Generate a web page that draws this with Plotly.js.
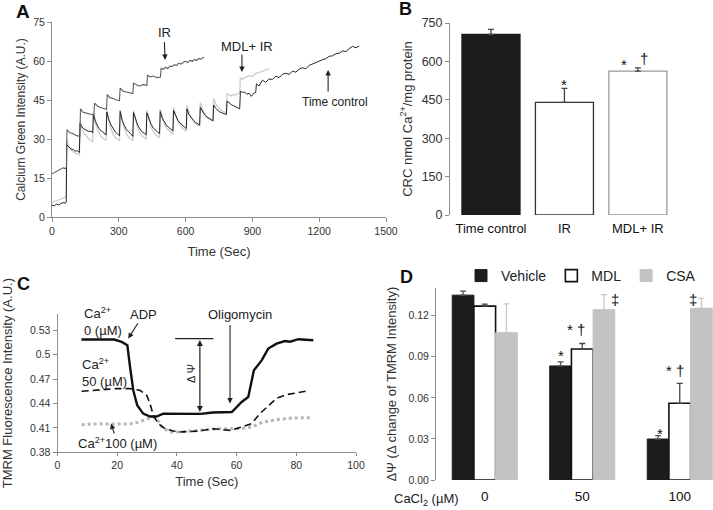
<!DOCTYPE html>
<html>
<head>
<meta charset="utf-8">
<script src="https://cdn.plot.ly/plotly-3.0.1.min.js"></script>
<style>html,body{margin:0;padding:0;background:#fff}#chart{width:713px;height:510px}</style>
</head>
<body>
<div id="chart"></div>
<script>
// ---------- Panel A : Calcium Green traces ----------
const timeCtrlA = [0,10,20,30,40,50,60,64,
 66,75,85,95,105,115,123,
 126,135,145,155,165,175,183,
 186,195,205,215,225,235,243,
 246,255,265,275,285,295,303,
 306,315,325,335,345,355,363,
 366,375,385,395,405,415,423,
 426,435,445,455,465,475,483,
 486,495,505,515,525,535,543,
 546,555,565,575,585,595,603,
 606,615,625,635,645,655,663,
 666,675,685,695,705,715,723,
 726,735,745,755,765,775,783,
 786,795,805,815,825,835,843,
 846,855,865,875,885,895,905,915,
 918,930,945,960,975,990,1005,1020,1035,1050,1065,1080,1095,1110,1125,1140,1155,1170,1185,1200,1215,1230,1245,1260,1275,1290,1305,1320,1335,1350,1365,1380];
const ctrlA = [4.5,4.3,5.0,4.6,5.2,5.5,5.3,5.8,
 27.8,26.9,26.2,25.9,25.3,25.5,24.8,
 36.0,34.6,33.8,33.5,32.9,33.0,32.4,
 39.6,36.8,35.0,33.6,32.9,32.1,31.6,
 40.4,37.5,35.4,33.8,32.6,31.9,31.2,
 40.6,37.2,35.2,33.5,32.8,31.6,31.0,
 40.2,37.4,35.3,33.9,32.7,32.2,31.6,
 40.1,37.6,35.7,34.2,33.3,32.6,32.1,
 40.6,38.0,36.3,35.1,34.4,33.5,33.1,
 41.0,38.8,37.2,36.1,35.2,34.6,34.0,
 41.6,39.4,38.1,37.2,36.3,35.9,35.4,
 42.2,40.5,39.3,38.5,37.9,37.4,37.0,
 43.1,41.8,41.0,40.3,40.0,39.7,39.4,
 44.6,43.9,43.2,42.8,42.3,42.0,41.6,
 48.4,47.9,48.1,47.2,47.6,46.4,47.5,48.0,
 51.2,50.4,52.6,51.8,53.1,52.9,54.2,53.6,54.9,55.3,54.8,56.1,55.7,56.9,57.4,57.0,58.3,58.9,59.4,59.8,60.5,60.9,61.8,62.0,62.8,63.0,63.9,63.6,64.8,65.6,65.1,65.8];

const timeMdlA = [0,10,20,30,40,50,60,64,
 66,75,85,95,105,115,123,
 126,135,145,155,165,175,183,
 186,195,205,215,225,235,243,
 246,255,265,275,285,295,303,
 306,315,325,335,345,355,363,
 366,375,385,395,405,415,423,
 426,435,445,455,465,475,483,
 486,495,505,515,525,535,543,
 546,555,565,575,585,595,603,
 606,615,625,635,645,655,663,
 666,675,685,695,705,715,723,
 726,735,745,755,765,775,783,
 786,795,805,815,825,835,843,
 846,855,870,885,900,915,930,945,960,975];
const mdlA = [5.6,5.9,6.4,6.8,7.0,7.4,7.6,8.0,
 29.6,27.2,25.8,25.0,24.6,24.3,24.0,
 36.6,33.9,32.0,30.8,30.0,29.4,29.0,
 40.1,36.2,33.4,31.6,30.6,29.9,29.4,
 41.0,36.9,33.8,31.7,30.5,29.8,29.3,
 41.2,37.0,33.9,31.9,30.6,29.9,29.4,
 41.0,37.1,34.2,32.3,31.1,30.4,30.0,
 41.1,37.4,34.6,32.8,31.6,31.0,30.5,
 41.5,38.2,35.7,34.0,33.0,32.4,32.0,
 42.1,39.0,36.7,35.2,34.2,33.5,33.0,
 43.0,40.2,38.2,36.8,35.9,35.3,35.0,
 44.1,41.6,39.8,38.6,37.8,37.3,37.0,
 45.6,43.6,42.2,41.3,40.7,40.3,40.0,
 47.4,47.0,46.6,47.2,46.8,47.5,47.6,
 53.4,53.0,53.8,54.3,54.0,55.2,55.6,56.1,56.5,57.0];

const timeIrA = [0,10,20,30,40,50,60,65,
 67,80,95,110,125,
 128,140,155,170,188,
 191,205,220,235,245,
 248,260,275,290,303,
 306,320,335,350,363,
 366,380,395,410,426,
 429,440,455,470,487,
 490,500,510,520,530,540,550,560,570,580,590,600,610,620,630,640,650,660,670,683];
const irA = [16.6,17.0,17.4,17.9,18.3,18.9,18.6,19.2,
 33.6,32.4,32.0,31.3,31.0,
 41.6,40.3,40.0,39.6,39.2,
 43.8,42.6,42.0,41.7,41.4,
 47.1,45.9,45.6,45.0,44.8,
 49.6,48.4,48.0,47.8,47.5,
 51.6,50.8,50.4,51.0,50.6,
 54.6,53.9,54.2,53.6,53.8,
 57.2,56.8,57.6,57.1,58.0,57.9,58.6,58.3,59.2,58.8,59.5,59.9,59.4,60.3,59.8,60.6,60.2,61.0,60.7,61.6];

// ---------- Panel B : CRC bars ----------
const groupsB = ['Time control','IR','MDL+ IR'];
const crcB = [705, 440, 562];
const crcErrB = [20, 55, 13];

// ---------- Panel C : TMRM traces ----------
const timeCa0 = [8,12,16,19,21.5,23.4,24.3,25.4,26.7,28.7,31,33.2,35.4,38.8,44,48,52,56,58.4,61.7,63.9,65.8,68.4,70.6,73.4,76.2,77.9,80.7,83,85.7];
const tmrmCa0 = [0.5186,0.5185,0.5186,0.5186,0.5157,0.5115,0.485,0.456,0.4378,0.4276,0.424,0.424,0.4276,0.4276,0.4272,0.4272,0.429,0.429,0.4295,0.4418,0.448,0.4808,0.493,0.5075,0.5136,0.5168,0.516,0.519,0.5185,0.5177];
const timeCa50 = [8.1,14.2,19.8,24.3,27.6,29.9,31,32.1,33.8,36,38.8,41,46.6,52.2,57.8,61.7,65,67.8,70.3,73.4,76.8,80.7,84];
const tmrmCa50 = [0.455,0.457,0.4583,0.4583,0.4562,0.450,0.4398,0.4255,0.4152,0.409,0.4062,0.405,0.406,0.409,0.407,0.4111,0.4152,0.4275,0.4355,0.4465,0.451,0.4535,0.4555];
const timeCa100 = [8.1,14.2,19.8,25.4,28.7,32.1,33.8,35.4,38.2,41,47.7,54.4,61.1,65,68.9,73.4,77.9,84.6];
const tmrmCa100 = [0.414,0.415,0.4148,0.415,0.4193,0.4234,0.418,0.409,0.405,0.405,0.407,0.409,0.409,0.4111,0.4172,0.4201,0.422,0.4225];

// ---------- Panel D : delta Psi bars ----------
const cacl2D = ['0','50','100'];
const vehicleD = [0.135, 0.0833, 0.0299];
const vehicleErrD = [0.003, 0.003, 0.0025];
const mdlD = [0.127, 0.0957, 0.056];
const mdlErrD = [0.0015, 0.004, 0.0146];
const csaD = [0.1076, 0.1244, 0.1254];
const csaErrD = [0.021, 0.011, 0.0073];

// ---------- layout helpers (pixel -> paper) ----------
const W = 713, H = 510;
const px = v => v / W;
const py = v => 1 - v / H;
const FONT = 'Liberation Sans, Arial, sans-serif';
const zeros = n => new Array(n).fill(0);

const traces = [
  {x: timeMdlA, y: mdlA, xaxis:'x', yaxis:'y', type:'scatter', mode:'lines', line:{color:'#cfcfcf', width:1.4}, showlegend:false},
  {x: timeCtrlA, y: ctrlA, xaxis:'x', yaxis:'y', type:'scatter', mode:'lines', line:{color:'#262626', width:1}, showlegend:false},
  {x: timeIrA, y: irA, xaxis:'x', yaxis:'y', type:'scatter', mode:'lines', line:{color:'#5e5e5e', width:1.1}, showlegend:false},

  {x: groupsB, y: crcB, xaxis:'x2', yaxis:'y2', type:'bar', width:0.79, showlegend:false,
   marker:{color:['#1c1c1c','#ffffff','#ffffff'], line:{color:['#1c1c1c','#333333','#9a9a9a'], width:1.3},
           pattern:{shape:['','','/'], fgcolor:'#222222', size:6, solidity:0.35}},
   error_y:{type:'data', symmetric:false, array:crcErrB, arrayminus:zeros(3), color:'#444', thickness:1.3, width:3}},

  {x: timeCa100, y: tmrmCa100, xaxis:'x3', yaxis:'y3', type:'scatter', mode:'lines', line:{color:'#b5b5b5', width:3, dash:'dot'}, showlegend:false},
  {x: timeCa50, y: tmrmCa50, xaxis:'x3', yaxis:'y3', type:'scatter', mode:'lines', line:{color:'#111', width:1.6, dash:'7px,4px'}, showlegend:false},
  {x: timeCa0, y: tmrmCa0, xaxis:'x3', yaxis:'y3', type:'scatter', mode:'lines', line:{color:'#111', width:2.4}, showlegend:false},

  {x: cacl2D, y: vehicleD, name:'Vehicle', xaxis:'x4', yaxis:'y4', type:'bar', marker:{color:'#1c1c1c', line:{color:'#1c1c1c', width:1}},
   error_y:{type:'data', symmetric:false, array:vehicleErrD, arrayminus:zeros(3), color:'#555', thickness:1.3, width:3}},
  {x: cacl2D, y: mdlD, name:'MDL', xaxis:'x4', yaxis:'y4', type:'bar', marker:{color:'#ffffff', line:{color:'#111', width:1.6}},
   error_y:{type:'data', symmetric:false, array:mdlErrD, arrayminus:zeros(3), color:'#444', thickness:1.3, width:3}},
  {x: cacl2D, y: csaD, name:'CSA', xaxis:'x4', yaxis:'y4', type:'bar', marker:{color:'#c3c3c3', line:{color:'#c3c3c3', width:1}},
   error_y:{type:'data', symmetric:false, array:csaErrD, arrayminus:zeros(3), color:'#c8c8c8', thickness:1.3, width:3}}
];

const axLine = '#8c8c8c';
const tickF = s => ({family:FONT, size:s, color:'#333'});
const titleF = s => ({family:FONT, size:s, color:'#333', weight:400});
const txt = (s, c) => ({family:FONT, size:s, color:c || '#222', weight:400});

const layout = {
  width:W, height:H, margin:{l:0,r:0,t:0,b:0}, paper_bgcolor:'#fff', plot_bgcolor:'rgba(0,0,0,0)',
  font:{family:FONT, color:'#222'},
  barmode:'group', bargap:0.333, bargroupgap:0,
  showlegend:true,
  legend:{orientation:'h', x:px(461), y:py(276), xanchor:'left', yanchor:'middle', font:txt(14), bgcolor:'rgba(0,0,0,0)', traceorder:'normal'},
  // Panel A
  xaxis:{domain:[px(52), px(386)], range:[0,1500], dtick:300, tick0:0, showline:true, linecolor:axLine, linewidth:1, ticks:'outside', ticklen:4, tickcolor:axLine,
         showgrid:false, zeroline:false, tickfont:tickF(10.5), anchor:'y',
         title:{text:'Time (Sec)', font:titleF(13), standoff:11}},
  yaxis:{domain:[py(217), py(22)], range:[0,75], dtick:15, showline:true, linecolor:axLine, ticks:'outside', ticklen:4, tickcolor:axLine,
         showgrid:false, zeroline:false, tickfont:tickF(10.5), anchor:'x',
         title:{text:'Calcium Green Intensity (A.U.)', font:titleF(12), standoff:5}},
  // Panel B
  xaxis2:{domain:[px(450), px(679)], range:[-0.558, 2.56], type:'category', showline:false, ticks:'', showgrid:false, zeroline:false,
          tickfont:{family:FONT, size:13, color:'#111'}, anchor:'y2', ticklabelstandoff:4},
  yaxis2:{domain:[py(215), py(23)], range:[0,750], dtick:150, showline:true, linecolor:axLine, ticks:'outside', ticklen:4, tickcolor:axLine,
          showgrid:false, zeroline:false, tickfont:tickF(12.5), anchor:'x2',
          title:{text:'CRC nmol Ca<sup>2+</sup>/mg protein', font:titleF(13), standoff:6}},
  // Panel C
  xaxis3:{domain:[px(57.5), px(356)], range:[0,100], dtick:20, showline:true, linecolor:axLine, ticks:'outside', ticklen:3, tickcolor:axLine,
          showgrid:false, zeroline:false, tickfont:tickF(10.5), anchor:'y3',
          title:{text:'Time (Sec)', font:titleF(13), standoff:6}},
  yaxis3:{domain:[py(452.3), py(314)], range:[0.38,0.55], dtick:0.03, tick0:0.38, showline:true, linecolor:axLine, ticks:'outside', ticklen:4, tickcolor:axLine,
          showgrid:false, zeroline:false, tickfont:tickF(10.5), anchor:'x3',
          title:{text:'TMRM Fluorescence Intensity (A.U.)', font:titleF(13), standoff:18}},
  // Panel D
  xaxis4:{domain:[px(436), 1], range:[-0.5, 2.341], type:'category', showline:false, ticks:'', showgrid:false, zeroline:false,
          tickfont:{family:FONT, size:13.5, color:'#111'}, anchor:'y4', ticklabelstandoff:6},
  yaxis4:{domain:[py(480), py(288.3)], range:[0,0.14], tickvals:[0,0.03,0.06,0.09,0.12], tickformat:'.2f', showline:true, linecolor:axLine, ticks:'outside', ticklen:4, tickcolor:axLine,
          showgrid:false, zeroline:false, tickfont:tickF(10.5), anchor:'x4',
          title:{text:'ΔΨ (Δ change of TMRM Intensity)', font:titleF(13), standoff:8}},
  shapes:[
    {type:'line', xref:'x3', yref:'y3', x0:39.4, x1:52.2, y0:0.5198, y1:0.5198, line:{color:'#222', width:1.2}}
  ],
  annotations:[
    // panel letters
    {xref:'paper', yref:'paper', x:px(22.5), y:py(11), xanchor:'center', yanchor:'middle', text:'<b>A</b>', showarrow:false, font:{family:FONT, size:19, color:'#111'}},
    {xref:'paper', yref:'paper', x:px(405.5), y:py(9), xanchor:'center', yanchor:'middle', text:'<b>B</b>', showarrow:false, font:{family:FONT, size:18, color:'#111'}},
    {xref:'paper', yref:'paper', x:px(23), y:py(284), xanchor:'center', yanchor:'middle', text:'<b>C</b>', showarrow:false, font:{family:FONT, size:18, color:'#111'}},
    {xref:'paper', yref:'paper', x:px(407), y:py(276.5), xanchor:'center', yanchor:'middle', text:'<b>D</b>', showarrow:false, font:{family:FONT, size:18, color:'#111'}},
    // Panel A labels and arrows
    {xref:'x', yref:'y', x:508, y:60.4, axref:'x', ayref:'y', ax:503, ay:70.8, text:'IR', showarrow:true, arrowhead:2, arrowsize:1, arrowwidth:1.1, arrowcolor:'#222', font:txt(13)},
    {xref:'x', yref:'y', x:876, y:65.4, text:'MDL+ IR', showarrow:false, font:txt(13)},
    {xref:'x', yref:'y', x:853, y:55.8, axref:'x', ayref:'y', ax:853, ay:63.1, text:'', showarrow:true, arrowhead:2, arrowsize:1, arrowwidth:1.1, arrowcolor:'#222'},
    {xref:'x', yref:'y', x:1271, y:44.2, text:'Time control', showarrow:false, font:txt(12)},
    {xref:'x', yref:'y', x:1240, y:56.5, axref:'x', ayref:'y', ax:1240, ay:47.7, text:'', showarrow:true, arrowhead:2, arrowsize:1, arrowwidth:1.1, arrowcolor:'#222'},
    // Panel B significance marks
    {xref:'x2', yref:'y2', x:1, y:510, text:'*', showarrow:false, font:txt(15,'#111')},
    {xref:'x2', yref:'y2', x:1.81, y:588, text:'*', showarrow:false, font:txt(15,'#111')},
    {xref:'x2', yref:'y2', x:2.08, y:613, text:'†', showarrow:false, font:txt(15,'#111')},
    // Panel C labels
    {xref:'x3', yref:'y3', x:8.1, y:0.5405, xanchor:'left', yanchor:'middle', text:'Ca<sup>2+</sup><br>0 (µM)', align:'left', showarrow:false, font:txt(13)},
    {xref:'x3', yref:'y3', x:23.7, y:0.5198, axref:'x3', ayref:'y3', ax:28.8, ay:0.5497, text:'ADP', showarrow:true, arrowhead:2, arrowsize:1, arrowwidth:1.1, arrowcolor:'#222', font:txt(13)},
    {xref:'x3', yref:'y3', x:61.1, y:0.5497, text:'Oligomycin', showarrow:false, font:txt(13)},
    {xref:'x3', yref:'y3', x:57.8, y:0.4399, axref:'x3', ayref:'y3', ax:57.8, ay:0.5382, text:'', showarrow:true, arrowhead:2, arrowsize:1, arrowwidth:1.1, arrowcolor:'#222'},
    {xref:'x3', yref:'y3', x:47.7, y:0.4295, axref:'x3', ayref:'y3', ax:47.7, ay:0.5198, text:'', showarrow:true, arrowhead:2, startarrowhead:2, arrowside:'end+start', arrowsize:1, arrowwidth:1.2, arrowcolor:'#222'},
    {xref:'x3', yref:'y3', x:44.96, y:0.4771, text:'Δ Ψ', textangle:-90, showarrow:false, font:txt(11)},
    {xref:'x3', yref:'y3', x:7.5, y:0.4784, xanchor:'left', yanchor:'middle', text:'Ca<sup>2+</sup><br>50 (µM)', align:'left', showarrow:false, font:txt(13)},
    {xref:'x3', yref:'y3', x:17.9, y:0.4153, axref:'x3', ayref:'y3', ax:20.1, ay:0.3914, text:'Ca<sup>2+</sup>100 (µM)', showarrow:true, arrowhead:2, arrowsize:1, arrowwidth:1.1, arrowcolor:'#222', font:txt(13)},
    // Panel D marks
    {xref:'x4', yref:'y4', x:0.778, y:0.091, text:'*', showarrow:false, font:txt(15,'#111')},
    {xref:'x4', yref:'y4', x:0.94, y:0.1096, text:'* †', showarrow:false, font:txt(15,'#111')},
    {xref:'x4', yref:'y4', x:1.333, y:0.132, text:'‡', showarrow:false, font:txt(15,'#111')},
    {xref:'x4', yref:'y4', x:2.133, y:0.132, text:'‡', showarrow:false, font:txt(15,'#111')},
    {xref:'x4', yref:'y4', x:1.949, y:0.0803, text:'* †', showarrow:false, font:txt(15,'#111')},
    {xref:'x4', yref:'y4', x:1.795, y:0.0336, text:'*', showarrow:false, font:txt(15,'#111')},
    {xref:'paper', yref:'paper', x:px(427), y:py(499), xanchor:'center', yanchor:'middle', text:'CaCl<sub>2</sub> (µM)', showarrow:false, font:txt(13)}
  ]
};

Plotly.newPlot('chart', traces, layout, {displayModeBar:false, staticPlot:true});
</script>
</body>
</html>
